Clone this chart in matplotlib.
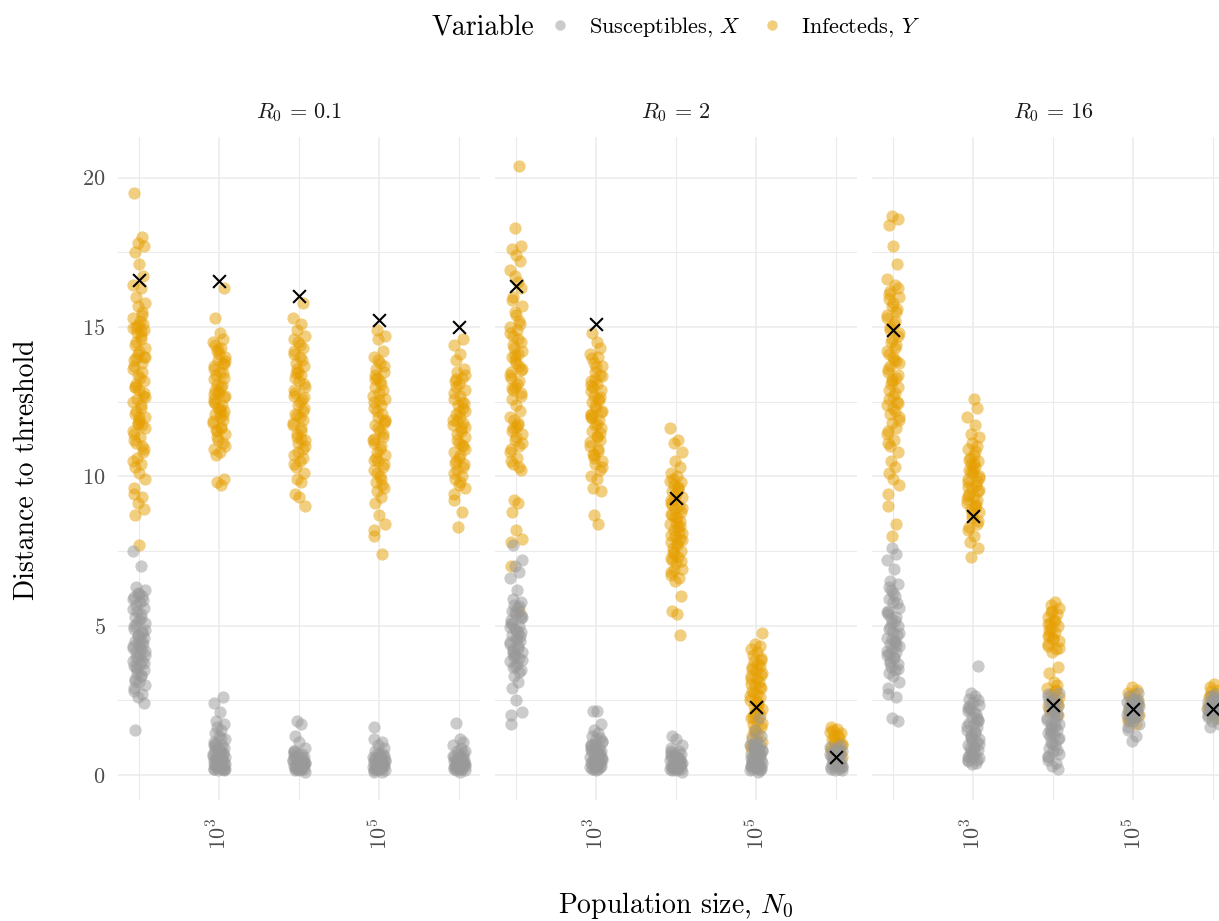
import matplotlib
matplotlib.use('Agg')
import matplotlib.pyplot as plt
from matplotlib.lines import Line2D
import numpy as np

plt.rcParams['font.family'] = 'serif'
plt.rcParams['font.serif'] = ['cmr10']
plt.rcParams['mathtext.fontset'] = 'cm'
plt.rcParams['axes.formatter.use_mathtext'] = True

# ---- data ----
sizes = [1e2, 1e3, 1e4, 1e5, 1e6]
r0_labels = [r'$R_0\,=\,0.1$', r'$R_0\,=\,2$', r'$R_0\,=\,16$']

# R0 = 0.1
y_01_e2 = [19.5, 18.0, 17.8, 17.7, 17.5, 17.1, 16.7, 16.4, 16.3, 16.0, 15.8, 15.7, 15.5, 15.3, 15.2,
           15.0, 14.9, 14.8, 14.6, 14.4, 14.2, 14.0, 13.9, 13.7, 13.5, 13.4, 13.2, 13.0, 12.9, 12.7,
           12.5, 12.4, 12.2, 12.0, 11.8, 11.7, 11.5, 11.3, 11.1, 10.9, 10.6, 10.4, 10.3, 10.1, 9.9,
           9.6, 9.4, 9.3, 9.1, 8.9, 8.7, 7.7, 15.1, 14.95, 14.7, 14.5, 14.3, 14.1, 13.8, 13.6, 13.3,
           13.1, 12.8, 12.6, 12.3, 12.1, 11.9, 11.6, 11.4, 11.2, 15.4, 15.05, 14.0, 13.0, 12.0,
           10.8, 10.5, 14.85, 13.95, 12.65, 11.75, 11.0]
x_01_e2 = [7.5, 7.0, 6.3, 6.2, 6.1, 6.0, 5.9, 5.8, 5.7, 5.6, 5.5, 5.4, 5.3, 5.2, 5.1, 5.0, 4.9, 4.8,
           4.7, 4.6, 4.5, 4.5, 4.4, 4.3, 4.2, 4.1, 4.0, 3.9, 3.8, 3.8, 3.7, 3.6, 3.5, 3.4, 3.3, 3.2,
           3.1, 3.0, 2.9, 2.8, 2.7, 2.6, 2.4, 1.5, 6.05, 5.85, 5.55, 5.25, 5.05, 4.85, 4.65, 4.45,
           4.25, 4.05, 3.95, 3.75, 3.55, 3.35, 3.15, 4.35, 4.15, 3.65, 5.95, 4.75]
y_01_e3 = [16.3, 15.3, 14.8, 14.6, 14.5, 14.3, 14.2, 14.0, 13.9, 13.8, 13.7, 13.5, 13.4, 13.3, 13.1,
           13.0, 12.9, 12.8, 12.7, 12.6, 12.5, 12.4, 12.3, 12.2, 12.1, 12.0, 11.9, 11.8, 11.6, 11.5,
           11.4, 11.2, 11.1, 10.9, 10.8, 10.7, 9.9, 9.8, 9.7, 14.4, 14.1, 13.85, 13.6, 13.25, 13.05,
           12.85, 12.65, 12.45, 12.25, 12.05, 11.85, 11.65, 11.3, 11.0, 14.25, 13.45, 12.75, 12.15,
           11.55, 13.75]
x_01_e3 = [2.6, 2.4, 2.1, 1.8, 1.7, 1.6, 1.5, 1.4, 1.3, 1.2, 1.1, 1.0, 1.0, 0.9, 0.9, 0.8, 0.8, 0.7,
           0.7, 0.6, 0.6, 0.6, 0.5, 0.5, 0.5, 0.4, 0.4, 0.4, 0.3, 0.3, 0.3, 0.3, 0.2, 0.2, 0.2, 0.2,
           0.15, 0.15, 0.95, 0.85, 0.75, 0.65, 0.55, 0.45, 0.35, 0.25, 0.25, 0.35, 0.45, 0.55, 0.2,
           0.3, 1.25, 1.05]
y_01_e4 = [15.8, 15.3, 15.1, 14.9, 14.7, 14.5, 14.3, 14.2, 14.0, 13.8, 13.7, 13.6, 13.4, 13.3, 13.2,
           13.0, 12.9, 12.7, 12.6, 12.4, 12.3, 12.1, 12.0, 11.9, 11.7, 11.6, 11.4, 11.2, 11.1, 10.9,
           10.7, 10.5, 10.3, 10.1, 9.9, 9.8, 9.4, 9.3, 9.0, 14.6, 14.1, 13.9, 13.5, 13.1, 12.8,
           12.5, 12.2, 11.8, 11.5, 11.3, 11.0, 10.8, 10.6, 10.4, 14.4, 13.45, 12.65, 12.05, 11.25]
x_01_e4 = [1.8, 1.7, 1.3, 1.1, 0.9, 0.8, 0.8, 0.7, 0.7, 0.6, 0.6, 0.5, 0.5, 0.5, 0.4, 0.4, 0.4, 0.3,
           0.3, 0.3, 0.3, 0.2, 0.2, 0.2, 0.2, 0.15, 0.15, 0.1, 0.75, 0.65, 0.55, 0.45, 0.35, 0.25,
           0.25, 0.35, 0.45, 0.2, 0.3, 0.4, 0.5]
y_01_e5 = [14.9, 14.7, 14.6, 14.2, 14.0, 13.8, 13.6, 13.5, 13.3, 13.1, 13.0, 12.8, 12.6, 12.5, 12.3,
           12.1, 12.0, 11.8, 11.7, 11.5, 11.3, 11.2, 11.0, 10.8, 10.7, 10.5, 10.3, 10.2, 10.0, 9.8,
           9.6, 9.5, 9.3, 9.1, 8.7, 8.4, 8.2, 8.0, 7.4, 13.9, 13.7, 13.4, 13.2, 12.9, 12.7, 12.4,
           12.2, 11.9, 11.6, 11.4, 11.1, 10.9, 10.6, 10.4, 10.1, 9.9, 13.25, 12.55, 11.85, 11.25,
           10.55, 9.7]
x_01_e5 = [1.6, 1.2, 1.1, 1.0, 0.9, 0.8, 0.7, 0.7, 0.6, 0.6, 0.5, 0.5, 0.4, 0.4, 0.4, 0.3, 0.3, 0.3,
           0.2, 0.2, 0.2, 0.2, 0.15, 0.15, 0.1, 0.1, 0.75, 0.65, 0.55, 0.45, 0.35, 0.25, 0.25, 0.35,
           0.45, 0.2, 0.3, 0.5]
y_01_e6 = [14.6, 14.4, 14.1, 13.9, 13.6, 13.5, 13.3, 13.2, 13.1, 12.9, 12.8, 12.6, 12.5, 12.4, 12.2,
           12.1, 12.0, 11.8, 11.7, 11.6, 11.4, 11.3, 11.1, 11.0, 10.8, 10.7, 10.5, 10.4, 10.2, 10.0,
           9.9, 9.7, 9.6, 9.4, 9.2, 8.8, 8.3, 13.4, 13.0, 12.7, 12.3, 11.9, 11.5, 11.2, 10.9, 10.6,
           10.3, 10.1, 9.8, 13.25, 12.45, 11.85, 11.05, 10.45, 12.15, 11.65]
x_01_e6 = [1.75, 1.2, 1.1, 1.0, 0.9, 0.8, 0.8, 0.7, 0.6, 0.6, 0.5, 0.5, 0.4, 0.4, 0.4, 0.3, 0.3, 0.3,
           0.25, 0.2, 0.2, 0.2, 0.15, 0.15, 0.1, 0.75, 0.65, 0.55, 0.45, 0.35, 0.25, 0.35, 0.45,
           0.2, 0.3, 0.5]

# R0 = 2
y_2_e2 = [20.4, 18.3, 17.7, 17.6, 17.4, 17.2, 16.9, 16.5, 16.0, 15.7, 15.5, 15.2, 15.0, 14.9, 14.7,
          14.5, 14.3, 14.1, 14.0, 13.8, 13.6, 13.5, 13.3, 13.2, 13.0, 12.8, 12.6, 12.4, 12.2, 12.0,
          11.8, 11.6, 11.4, 11.2, 11.0, 10.8, 10.6, 10.4, 10.2, 9.2, 9.1, 8.8, 8.2, 7.9, 7.8, 7.0,
          5.5, 16.7, 16.3, 15.9, 15.4, 15.1, 14.8, 14.6, 14.4, 14.2, 13.9, 13.7, 13.4, 13.1, 12.9,
          12.7, 11.9, 11.7, 11.5, 11.3, 11.1, 10.9, 10.5, 10.3, 14.05, 13.55, 12.95, 11.65]
x_2_e2 = [7.7, 7.2, 7.0, 6.8, 6.6, 6.2, 5.9, 5.8, 5.7, 5.6, 5.5, 5.4, 5.3, 5.2, 5.1, 5.0, 4.9, 4.8,
          4.7, 4.6, 4.5, 4.4, 4.3, 4.2, 4.1, 4.0, 3.9, 3.8, 3.7, 3.6, 3.5, 3.3, 3.1, 2.9, 2.5, 2.1,
          2.0, 1.7, 5.65, 5.45, 5.25, 5.05, 4.85, 4.65, 4.45, 4.25, 4.05, 3.85, 3.65, 3.45, 4.95,
          4.55, 4.15, 5.35, 3.95, 4.75]
y_2_e3 = [14.8, 14.5, 14.3, 14.1, 14.0, 13.8, 13.7, 13.5, 13.4, 13.2, 13.1, 13.0, 12.9, 12.7, 12.6,
          12.5, 12.3, 12.2, 12.1, 12.0, 11.9, 11.7, 11.6, 11.5, 11.3, 11.2, 11.0, 10.9, 10.7, 10.5,
          10.4, 10.2, 10.0, 9.9, 9.6, 9.5, 8.7, 8.4, 13.95, 13.65, 13.35, 13.05, 12.85, 12.55,
          12.35, 12.15, 11.95, 11.75, 11.45, 11.15, 10.85, 10.6, 10.3, 13.25, 12.65, 12.05, 11.35,
          10.75]
x_2_e3 = [2.15, 2.15, 1.7, 1.5, 1.4, 1.3, 1.2, 1.1, 1.0, 1.0, 0.9, 0.9, 0.8, 0.8, 0.7, 0.7, 0.6, 0.6,
          0.5, 0.5, 0.4, 0.4, 0.4, 0.3, 0.3, 0.3, 0.2, 0.2, 0.2, 0.15, 1.15, 0.95, 0.85, 0.75, 0.65,
          0.55, 0.45, 0.35, 0.25, 0.25, 0.35, 0.45, 0.55, 1.05, 1.25]
y_2_e4 = [11.6, 11.2, 11.1, 10.8, 10.5, 10.3, 10.1, 10.0, 9.9, 9.8, 9.7, 9.6, 9.5, 9.4, 9.3, 9.2,
          9.1, 9.0, 8.9, 8.8, 8.7, 8.6, 8.5, 8.4, 8.3, 8.2, 8.1, 8.0, 7.9, 7.8, 7.7, 7.6, 7.5, 7.4,
          7.3, 7.2, 7.1, 6.9, 6.8, 6.7, 6.6, 6.5, 6.0, 5.5, 5.4, 4.7, 9.85, 9.55, 9.25, 8.95, 8.65,
          8.35, 8.05, 7.75, 7.45, 7.15, 6.85, 9.65, 9.05, 8.45, 7.85, 7.25, 8.75, 8.15]
x_2_e4 = [1.3, 1.2, 1.0, 0.9, 0.8, 0.8, 0.7, 0.7, 0.6, 0.6, 0.5, 0.5, 0.5, 0.4, 0.4, 0.4, 0.3, 0.3,
          0.3, 0.25, 0.2, 0.2, 0.2, 0.15, 0.15, 0.1, 0.75, 0.65, 0.55, 0.45, 0.35, 0.25, 0.35, 0.45,
          0.2, 0.3]
y_2_e5 = [4.75, 4.4, 4.3, 4.2, 4.1, 4.0, 3.9, 3.8, 3.7, 3.6, 3.5, 3.4, 3.3, 3.2, 3.1, 3.0, 2.9, 2.8,
          2.7, 2.6, 2.5, 2.4, 2.3, 2.2, 2.1, 2.0, 1.9, 1.8, 1.7, 1.6, 1.5, 1.4, 1.3, 1.2, 1.1, 1.0,
          0.9, 0.8, 0.7, 3.85, 3.55, 3.25, 2.95, 2.65, 2.35, 2.05, 1.75, 1.45, 3.65, 3.05, 2.45,
          1.95, 3.35, 2.75, 2.15]
x_2_e5 = [1.9, 1.5, 1.3, 1.2, 1.1, 1.0, 1.0, 0.9, 0.9, 0.8, 0.8, 0.7, 0.7, 0.6, 0.6, 0.5, 0.5, 0.5,
          0.4, 0.4, 0.4, 0.3, 0.3, 0.3, 0.25, 0.2, 0.2, 0.2, 0.15, 0.15, 0.1, 0.95, 0.85, 0.75,
          0.65, 0.55, 0.45, 0.35, 0.25, 1.05, 0.35, 0.45]
y_2_e6 = [1.6, 1.55, 1.5, 1.4, 1.3, 1.25, 1.2, 1.1, 1.0, 0.9, 0.85, 0.8, 0.7, 0.6, 0.5, 0.4, 0.3,
          1.45, 1.35, 1.15, 1.05, 0.95, 0.75]
x_2_e6 = [1.0, 0.95, 0.9, 0.85, 0.8, 0.75, 0.7, 0.65, 0.6, 0.55, 0.5, 0.45, 0.4, 0.35, 0.3, 0.3,
          0.25, 0.2, 0.2, 0.15, 0.15, 0.6, 0.5, 0.4, 0.7, 0.35, 0.45, 0.25]

# R0 = 16
y_16_e2 = [18.7, 18.6, 18.4, 17.7, 17.1, 16.6, 16.4, 16.2, 16.0, 15.7, 15.5, 15.3, 15.1, 14.9, 14.7,
           14.5, 14.3, 14.1, 14.0, 13.8, 13.6, 13.5, 13.3, 13.2, 13.0, 12.9, 12.7, 12.5, 12.4, 12.2,
           12.1, 12.0, 11.8, 11.6, 11.4, 11.2, 11.0, 10.8, 10.5, 10.3, 10.1, 9.9, 9.7, 9.4, 9.0, 8.4,
           8.0, 16.3, 16.1, 15.8, 15.6, 15.4, 15.2, 15.0, 14.8, 14.6, 14.4, 14.2, 13.9, 13.7, 13.4,
           13.1, 12.8, 12.6, 12.3, 11.9, 11.5, 11.1, 13.85, 13.25, 12.45, 15.95]
x_16_e2 = [7.6, 7.4, 7.2, 6.9, 6.5, 6.4, 6.2, 6.0, 5.9, 5.8, 5.6, 5.5, 5.4, 5.3, 5.1, 5.0, 4.9, 4.8,
           4.7, 4.6, 4.5, 4.4, 4.3, 4.2, 4.1, 4.0, 3.9, 3.8, 3.7, 3.6, 3.5, 3.4, 3.3, 3.1, 2.9, 2.7,
           2.6, 1.9, 1.8, 6.3, 6.1, 5.75, 5.45, 5.15, 4.95, 4.75, 4.55, 4.35, 4.15, 3.95, 3.75,
           3.55, 5.25, 4.45, 4.05]
y_16_e3 = [12.6, 12.3, 12.0, 11.7, 11.4, 11.3, 11.1, 11.0, 10.9, 10.7, 10.6, 10.5, 10.4, 10.3, 10.2,
           10.1, 10.0, 9.9, 9.8, 9.7, 9.6, 9.5, 9.4, 9.3, 9.2, 9.1, 9.0, 8.9, 8.8, 8.6, 8.4, 8.2, 8.0,
           7.8, 7.6, 7.3, 10.85, 10.55, 10.25, 9.95, 9.65, 9.35, 9.05, 8.75, 8.5, 8.3, 10.45, 9.85,
           9.25, 8.95, 10.15, 9.55]
x_16_e3 = [3.65, 2.75, 2.65, 2.55, 2.45, 2.35, 2.25, 2.15, 2.05, 1.95, 1.85, 1.75, 1.7, 1.6, 1.5,
           1.4, 1.3, 1.2, 1.15, 1.1, 1.0, 0.95, 0.9, 0.85, 0.8, 0.7, 0.65, 0.6, 0.55, 0.5, 0.45, 0.4,
           0.35, 2.5, 2.3, 2.1, 1.9, 1.65, 1.45, 1.25, 1.05, 0.75, 0.5, 0.6, 0.9, 2.2, 1.8, 1.35]
y_16_e4 = [5.8, 5.7, 5.6, 5.5, 5.4, 5.3, 5.2, 5.1, 5.0, 4.9, 4.8, 4.7, 4.6, 4.5, 4.4, 4.3, 4.2, 4.1,
           3.6, 3.4, 3.1, 3.0, 2.9, 2.8, 2.7, 2.6, 2.5, 2.4, 2.3, 2.2, 2.1, 2.0, 5.45, 5.15, 4.85,
           4.55, 4.25, 5.05, 4.65, 2.85, 2.55, 2.35]
x_16_e4 = [2.75, 2.7, 2.6, 2.5, 2.4, 2.3, 2.2, 2.1, 2.0, 1.9, 1.8, 1.75, 1.7, 1.6, 1.5, 1.4, 1.35,
           1.3, 1.2, 1.1, 1.0, 0.9, 0.8, 0.7, 0.6, 0.5, 0.4, 0.3, 0.2, 2.45, 2.25, 2.05, 1.85, 1.65,
           1.45, 1.25, 1.05, 0.85, 0.65, 2.15, 1.55]
y_16_e5 = [2.95, 2.85, 2.75, 2.7, 2.6, 2.5, 2.4, 2.3, 2.2, 2.1, 2.0, 1.9, 1.8, 1.7, 2.55, 2.35,
           2.15, 1.95]
x_16_e5 = [2.75, 2.65, 2.55, 2.5, 2.45, 2.4, 2.35, 2.3, 2.25, 2.2, 2.15, 2.1, 2.05, 2.0, 1.95, 1.9,
           1.85, 1.8, 1.7, 1.6, 1.5, 1.3, 1.15, 2.4, 2.3, 2.2, 2.1, 2.0, 2.25, 2.15]
y_16_e6 = [3.05, 2.95, 2.85, 2.8, 2.7, 2.6, 2.5, 2.4, 2.3, 2.2, 2.1, 2.0, 1.9, 2.65, 2.45, 2.25]
x_16_e6 = [2.7, 2.65, 2.6, 2.55, 2.5, 2.45, 2.4, 2.35, 2.3, 2.25, 2.2, 2.15, 2.1, 2.05, 2.0, 1.95,
           1.9, 1.8, 1.7, 1.6, 2.4, 2.3, 2.2, 2.1, 2.35, 2.25]

# crosses (black x)
cross_01 = [16.57, 16.54, 16.04, 15.23, 15.0]
cross_2 = [16.37, 15.1, 9.27, 2.28, 0.6]
cross_16 = [14.9, 8.67, 2.34, 2.21, 2.21]

infected = [[y_01_e2, y_01_e3, y_01_e4, y_01_e5, y_01_e6],
            [y_2_e2, y_2_e3, y_2_e4, y_2_e5, y_2_e6],
            [y_16_e2, y_16_e3, y_16_e4, y_16_e5, y_16_e6]]
suscept = [[x_01_e2, x_01_e3, x_01_e4, x_01_e5, x_01_e6],
           [x_2_e2, x_2_e3, x_2_e4, x_2_e5, x_2_e6],
           [x_16_e2, x_16_e3, x_16_e4, x_16_e5, x_16_e6]]
crosses = [cross_01, cross_2, cross_16]

# fixed horizontal jitter pattern (in decades)
jit = 0.75 * np.array([-0.08, 0.05, -0.02, 0.09, -0.06, 0.01, 0.07, -0.10, 0.03, -0.04, 0.10, -0.01,
                       0.06, -0.09, 0.02, -0.05, 0.08, -0.03, 0.04, -0.07, 0.00, 0.095, -0.085])

def jittered(n, vals, shift):
    k = np.arange(len(vals)) + shift
    return n * 10 ** jit[k % len(jit)]

GRAY = '#999999'
ORANGE = '#E69F00'
GRID = '#EBEBEB'

W, H = 1219, 921
fig = plt.figure(figsize=(W / 100, H / 100), dpi=100)

lefts = [118, 495, 872]
for i, left in enumerate(lefts):
    ax = fig.add_axes([left / W, 1 - 800 / H, 362 / W, 663 / H])
    ax.set_xscale('log')
    for j, n in enumerate(sizes):
        ax.scatter(jittered(n, infected[i][j], 3 * j + i), infected[i][j], s=78, color=ORANGE,
                   alpha=0.5, linewidths=0, zorder=2)
    for j, n in enumerate(sizes):
        ax.scatter(jittered(n, suscept[i][j], 5 * j + 2 * i + 7), suscept[i][j], s=78, color=GRAY,
                   alpha=0.5, linewidths=0, zorder=3)
    ax.scatter(sizes, crosses[i], marker='x', s=85, color='black', linewidths=1.5, zorder=4)

    ax.set_xlim(10 ** 1.74, 10 ** 6.26)
    ax.set_ylim(-0.84, 21.36)
    ax.set_xticks([1e3, 1e5])
    ax.set_xticks([1e2, 1e4, 1e6], minor=True)
    ax.set_xticklabels(['$10^3$', '$10^5$'], rotation=90)
    ax.set_xticklabels([], minor=True)
    ax.set_yticks([0, 5, 10, 15, 20])
    ax.set_yticks([2.5, 7.5, 12.5, 17.5], minor=True)
    if i > 0:
        ax.set_yticklabels([])
    ax.tick_params(which='both', length=0, labelsize=16, labelcolor='#4D4D4D')
    ax.tick_params(axis='x', pad=13)
    ax.tick_params(axis='y', pad=9)
    ax.grid(which='major', color=GRID, linewidth=1.1, zorder=0)
    ax.grid(which='minor', color=GRID, linewidth=0.8, zorder=0)
    ax.set_axisbelow(True)
    for sp in ax.spines.values():
        sp.set_visible(False)
    fig.text((left + 181) / W, 1 - 113 / H, r0_labels[i], ha='center', va='center', fontsize=16,
             color='#1A1A1A')

fig.text(27 / W, 1 - 470 / H, 'Distance to threshold', rotation=90, ha='center', va='center',
         fontsize=20)
fig.text(676 / W, 1 - 905 / H, 'Population size, $N_0$', ha='center', va='center', fontsize=20)

# legend on top
fig.text(432 / W, 1 - 27 / H, 'Variable', ha='left', va='center', fontsize=20)
handles = [Line2D([], [], marker='o', linestyle='', markersize=7.5, color=GRAY, alpha=0.5,
                  markeredgewidth=0),
           Line2D([], [], marker='o', linestyle='', markersize=7.5, color=ORANGE, alpha=0.5,
                  markeredgewidth=0)]
fig.legend(handles, ['Susceptibles, $X$', 'Infecteds, $Y$'], loc='center left',
           bbox_to_anchor=(542 / W, 1 - 27 / H), ncol=2, frameon=False, fontsize=16,
           handlelength=0.8, handletextpad=0.9, columnspacing=1.0, borderaxespad=0)

fig.savefig('out.png', dpi=100)
